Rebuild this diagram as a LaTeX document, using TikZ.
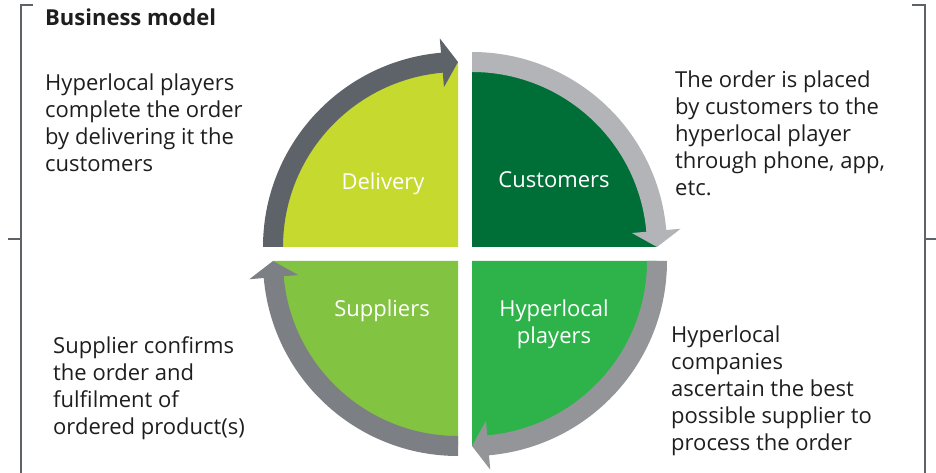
\documentclass[tikz,border=0pt]{standalone}
\usepackage{fontspec}
\setmainfont{Open Sans}
\usepackage{tikz}

\definecolor{delivery}{HTML}{C5D92E}
\definecolor{customers}{HTML}{006F37}
\definecolor{suppliers}{HTML}{82C341}
\definecolor{hyperlocal}{HTML}{2DB34A}
\definecolor{greyA}{HTML}{5E6369}
\definecolor{greyB}{HTML}{B2B4B7}
\definecolor{greyC}{HTML}{939599}
\definecolor{greyD}{HTML}{7C7F84}
\definecolor{ink}{HTML}{1E1E1E}

\begin{document}
\begin{tikzpicture}[x=1pt,y=1pt,
  label/.style={text=white,inner sep=0,align=center,font=\fontsize{22}{27}\selectfont},
  note/.style={text=ink,inner sep=0,align=left,anchor=north west,font=\fontsize{22}{27}\selectfont},
  bracket/.style={draw=greyA,line width=1.3pt}]
\useasboundingbox (0,0) rectangle (936,473);

% corners of the four quarters
\coordinate (tl) at (458,226);
\coordinate (tr) at (472,226);
\coordinate (bl) at (458,212);
\coordinate (br) at (472,212);

% quarters
\fill[delivery] (tl) -- ++(180:185) arc[start angle=180,end angle=90,radius=185] -- cycle;
\fill[customers] (tr) -- ++(90:185) arc[start angle=90,end angle=0,radius=185] -- cycle;
\fill[hyperlocal] (br) -- ++(0:185) arc[start angle=0,end angle=-90,radius=185] -- cycle;
\fill[suppliers] (bl) -- ++(-90:185) arc[start angle=-90,end angle=-180,radius=185] -- cycle;

% arrows
\begin{scope}[shift={(tl)}]
\fill[greyA] (180:195) arc[start angle=180,end angle=95,radius=195] -- (95:209.5) -- (90:185) -- (95:160.5) -- (95:175) arc[start angle=95,end angle=180,radius=175] -- cycle;
\end{scope}
\begin{scope}[shift={(tr)}]
\fill[greyB] (90:195) arc[start angle=90,end angle=5,radius=195] -- (5:209.5) -- (0:185) -- (5:160.5) -- (5:175) arc[start angle=5,end angle=90,radius=175] -- cycle;
\end{scope}
\begin{scope}[shift={(br)}]
\fill[greyC] (0:195) arc[start angle=0,end angle=-85,radius=195] -- (-85:209.5) -- (-90:185) -- (-85:160.5) -- (-85:175) arc[start angle=-85,end angle=0,radius=175] -- cycle;
\end{scope}
\begin{scope}[shift={(bl)}]
\fill[greyD] (-90:195) arc[start angle=-90,end angle=-175,radius=195] -- (-175:209.5) -- (180:185) -- (-175:160.5) -- (-175:175) arc[start angle=-175,end angle=-90,radius=175] -- cycle;
\end{scope}

% labels
\node[label,anchor=base] (delivery) at (383,283) {Delivery};
\node[label,anchor=base] (customers) at (554,285) {Customers};
\node[label,anchor=base] (suppliers) at (382,156) {Suppliers};
\node[label,anchor=north] (players) at (554,173) {Hyperlocal\\players};

% notes
\node[text=ink,inner sep=0,anchor=base west,font=\fontsize{22}{27}\selectfont\bfseries] (title) at (45,447) {Business model};
\node[note] (deliverynote) at (45,399) {Hyperlocal players\\complete the order\\by delivering it the\\customers};
\node[note] (customersnote) at (675,402) {The order is placed\\by customers to the\\hyperlocal player\\through phone, app,\\etc.};
\node[note] (suppliersnote) at (53,137) {Supplier confirms\\the order and\\fulfilment of\\ordered product(s)};
\node[note] (playersnote) at (671,147) {Hyperlocal\\companies\\ascertain the best\\possible supplier to\\process the order};

% brackets
\draw[bracket] (33,468) -- (21,468) -- (21,0);
\draw[bracket] (21,234) -- (8,234);
\draw[bracket] (912,468) -- (925,468) -- (925,0);
\draw[bracket] (925,234) -- (936,234);
\end{tikzpicture}
\end{document}
